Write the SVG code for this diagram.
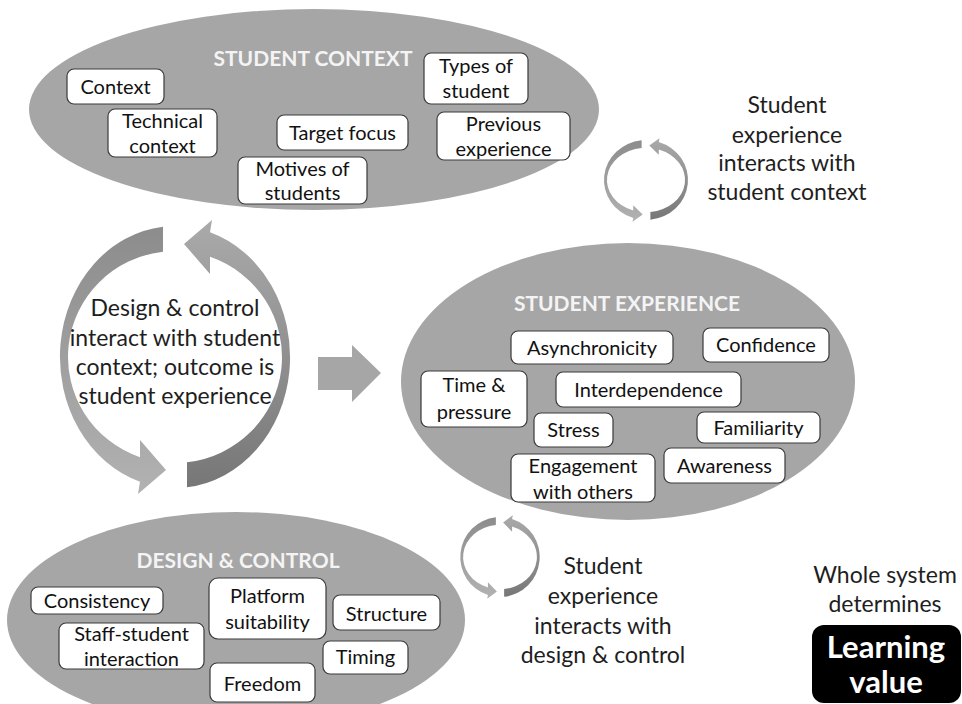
<svg xmlns="http://www.w3.org/2000/svg" xmlns:xlink="http://www.w3.org/1999/xlink" width="962" height="704" viewBox="0 0 962 704">
<style>
.ell{fill:#a6a6a6}
.box rect{fill:#fff;stroke:#3a3a3a;stroke-width:1.2}
.box text{font-family:Lato,"Liberation Sans",sans-serif;font-size:20px;fill:#111;text-anchor:middle}
.title{font-family:Lato,"Liberation Sans",sans-serif;font-weight:bold;font-size:21px;fill:#f4f4f4;text-anchor:middle}
.lbl{font-family:Lato,"Liberation Sans",sans-serif;font-size:23px;fill:#1e1e1e;text-anchor:middle}
.lv{font-family:Lato,"Liberation Sans",sans-serif;font-weight:bold;font-size:31px;fill:#fff;text-anchor:middle}
</style>
<defs>
<linearGradient id="gL" x1="0" y1="0" x2="0" y2="1">
<stop offset="0" stop-color="#8c8c8c"/><stop offset="1" stop-color="#b2b2b2"/>
</linearGradient>
<linearGradient id="gR" x1="0" y1="0" x2="0" y2="1">
<stop offset="0" stop-color="#777"/><stop offset="1" stop-color="#aaa"/>
</linearGradient>
<path id="arcL" d="M -12 -130.3 A 115 131 0 0 0 -35 124.8 L -37 137 L -9 113 L -35 83 L -35 100.2 A 107 106 0 0 1 -12 -105.3 Z"/>
</defs>
<rect width="962" height="704" fill="#fff"/>

<g id="connectors">
<g id="cycle-main" transform="translate(175,357)">
<use xlink:href="#arcL" href="#arcL" fill="url(#gL)"/>
<use xlink:href="#arcL" href="#arcL" fill="url(#gR)" transform="rotate(180)"/>
</g>
<g id="cycle-top" transform="translate(646,180) scale(0.365,0.305)">
<use xlink:href="#arcL" href="#arcL" fill="url(#gL)"/>
<use xlink:href="#arcL" href="#arcL" fill="url(#gR)" transform="rotate(180)"/>
</g>
<g id="cycle-bottom" transform="translate(500,557) scale(0.345,0.305)">
<use xlink:href="#arcL" href="#arcL" fill="url(#gL)"/>
<use xlink:href="#arcL" href="#arcL" fill="url(#gR)" transform="rotate(180)"/>
</g>
<polygon id="arrow-right" fill="#a6a6a6" points="318,357 352,357 352,345 381,373 352,402 352,390 318,390"/>
</g>

<g id="student-context">
<ellipse class="ell" cx="314" cy="109.5" rx="285" ry="100.5"/>
<text class="title" x="313" y="66">STUDENT CONTEXT</text>
<g class="box" id="sc-context"><rect x="67" y="69" width="97" height="35" rx="7"/><text x="115.5" y="93.5">Context</text></g>
<g class="box" id="sc-technical"><rect x="108" y="109" width="109" height="48" rx="7"/><text x="162.5" y="128">Technical</text><text x="162.5" y="153">context</text></g>
<g class="box" id="sc-target"><rect x="277" y="115" width="131" height="35" rx="7"/><text x="342.5" y="139.5">Target focus</text></g>
<g class="box" id="sc-motives"><rect x="238" y="157" width="129" height="47" rx="7"/><text x="302.5" y="176">Motives of</text><text x="302.5" y="200">students</text></g>
<g class="box" id="sc-types"><rect x="424" y="53" width="104" height="51" rx="7"/><text x="476" y="73">Types of</text><text x="476" y="98">student</text></g>
<g class="box" id="sc-previous"><rect x="437" y="112" width="133" height="48" rx="7"/><text x="503.5" y="131">Previous</text><text x="503.5" y="156">experience</text></g>
</g>

<g id="student-experience">
<ellipse class="ell" cx="628" cy="381.5" rx="227" ry="138.5"/>
<text class="title" x="627" y="311">STUDENT EXPERIENCE</text>
<g class="box" id="se-async"><rect x="511" y="331" width="162" height="33" rx="7"/><text x="592" y="354.5">Asynchronicity</text></g>
<g class="box" id="se-confidence"><rect x="703" y="328" width="126" height="34" rx="7"/><text x="766" y="352">Confidence</text></g>
<g class="box" id="se-time"><rect x="421" y="371" width="106" height="56" rx="7"/><text x="474" y="392">Time &amp;</text><text x="474" y="419">pressure</text></g>
<g class="box" id="se-interdependence"><rect x="556" y="372" width="185" height="35" rx="7"/><text x="648.5" y="396.5">Interdependence</text></g>
<g class="box" id="se-stress"><rect x="534" y="413" width="79" height="34" rx="7"/><text x="573.5" y="437">Stress</text></g>
<g class="box" id="se-familiarity"><rect x="697" y="412" width="123" height="31" rx="7"/><text x="758.5" y="434.5">Familiarity</text></g>
<g class="box" id="se-engagement"><rect x="511" y="454" width="144" height="48" rx="7"/><text x="583" y="473">Engagement</text><text x="583" y="499">with others</text></g>
<g class="box" id="se-awareness"><rect x="664" y="448" width="121" height="35" rx="7"/><text x="724.5" y="472.5">Awareness</text></g>
</g>

<g id="design-control">
<ellipse class="ell" cx="236" cy="620" rx="229" ry="108"/>
<text class="title" x="238" y="568">DESIGN &amp; CONTROL</text>
<g class="box" id="dc-consistency"><rect x="31" y="587" width="132" height="27" rx="7"/><text x="97" y="607.5">Consistency</text></g>
<g class="box" id="dc-staff"><rect x="59" y="623" width="145" height="46" rx="7"/><text x="131.5" y="641">Staff-student</text><text x="131.5" y="666">interaction</text></g>
<g class="box" id="dc-platform"><rect x="209" y="578" width="117" height="61" rx="9"/><text x="267.5" y="603">Platform</text><text x="267.5" y="629">suitability</text></g>
<g class="box" id="dc-structure"><rect x="333" y="595" width="107" height="35" rx="7"/><text x="386.5" y="621">Structure</text></g>
<g class="box" id="dc-timing"><rect x="323" y="641" width="85" height="33" rx="7"/><text x="365.5" y="664">Timing</text></g>
<g class="box" id="dc-freedom"><rect x="210" y="663" width="105" height="39" rx="7"/><text x="262.5" y="691">Freedom</text></g>
</g>

<g id="label-main">
<text class="lbl" x="175" y="316">Design &amp; control</text>
<text class="lbl" x="175" y="346">interact with student</text>
<text class="lbl" x="175" y="375">context; outcome is</text>
<text class="lbl" x="175" y="404">student experience</text>
</g>
<g id="label-top">
<text class="lbl" x="787" y="113">Student</text>
<text class="lbl" x="787" y="143">experience</text>
<text class="lbl" x="787" y="171">interacts with</text>
<text class="lbl" x="787" y="200">student context</text>
</g>
<g id="label-bottom">
<text class="lbl" x="603" y="574">Student</text>
<text class="lbl" x="603" y="604">experience</text>
<text class="lbl" x="603" y="634">interacts with</text>
<text class="lbl" x="603" y="663">design &amp; control</text>
</g>
<g id="learning-value">
<text class="lbl" x="885" y="583">Whole system</text>
<text class="lbl" x="885" y="612">determines</text>
<rect x="812" y="625" width="149" height="78" rx="12" fill="#000"/>
<text class="lv" x="886" y="658">Learning</text>
<text class="lv" x="886" y="693">value</text>
</g>
</svg>
